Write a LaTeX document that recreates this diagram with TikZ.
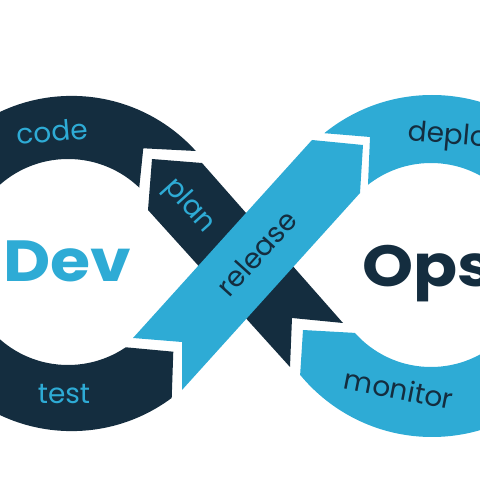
\documentclass[tikz,border=0pt]{standalone}
\usepackage{fontspec}
\setmainfont{Poppins}
\newfontfamily\wordfont{Poppins}[FakeStretch=1.12]
\usetikzlibrary{calc}
\definecolor{navy}{RGB}{20,45,63}
\definecolor{sky}{RGB}{46,171,213}
\begin{document}
\begin{tikzpicture}[x=1pt,y=1pt,
  lbl/.style={font=\fontsize{28}{30}\selectfont, inner sep=0pt},
  word/.style={font=\wordfont\fontsize{58}{60}\selectfont\bfseries, inner sep=0pt}]
\useasboundingbox (0,0) rectangle (480,480);
\clip (0,0) rectangle (480,480);
% Dev loop (code + test)
\begin{scope}
  \clip (-100,-100) -- (165.3,-104.7) -- (173.3,128.3) -- (122.8,133.0) -- (143.3,331.7) -- (610,307.7) -- (610,600) -- (-100,600) -- cycle;
  \fill[navy, even odd rule] (71.6,216.5) circle[radius=167.6] (68,218) circle[radius=103];
\end{scope}
% plan band
\fill[navy] (152,321) -- (202,317) -- (343,157) -- (292,162) -- (290,113) -- (148,270) -- cycle;
% release band
\fill[sky] (363,335) -- (312,340) -- (133,142) -- (182,138) -- (182,90) -- (360,287) -- cycle;
% Ops loop (deploy + monitor)
\begin{scope}
  \clip (700,-100) -- (288,-85) -- (303,150) -- (361.8,146.7) -- (370,343) -- (-110,383) -- (-110,600) -- (700,600) -- cycle;
  \fill[sky, even odd rule] (432,214) circle[radius=171] (431,215) circle[radius=102];
\end{scope}
% labels
\node[lbl, text=sky, rotate=5] (code) at (52,348.5) {code};
\node[lbl, text=sky, rotate=-48] (plan) at (189,274) {plan};
\node[lbl, text=navy, rotate=48] (release) at (256.7,226.7) {release};
\node[lbl, text=sky] (test) at (64,86) {test};
\node[lbl, text=navy, rotate=-5, anchor=base west] (deploy) at (407,340) {deploy};
\node[lbl, text=navy, rotate=-11] (monitor) at (399,91) {monitor};
\node[word, text=sky, anchor=base west] (dev) at (3,198.3) {Dev};
\node[word, text=navy, anchor=base west] (ops) at (362,193.3) {Ops};
\end{tikzpicture}
\end{document}
